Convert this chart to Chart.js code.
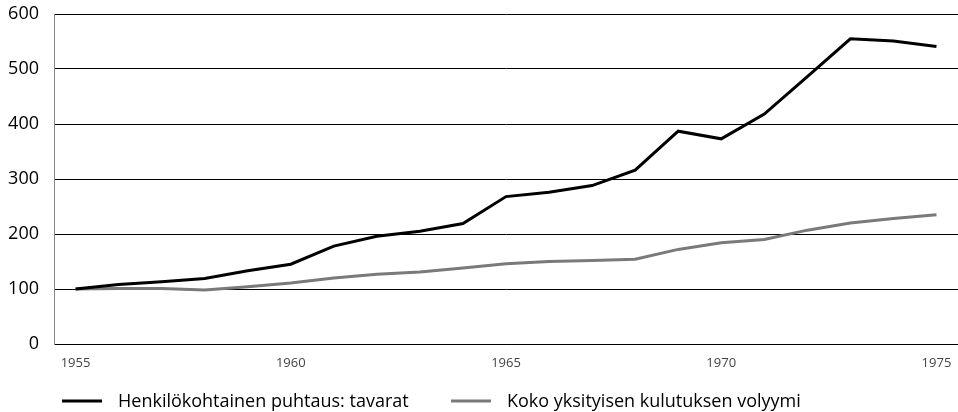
<!DOCTYPE html>
<html>
<head>
<meta charset="utf-8">
<script src="https://cdn.jsdelivr.net/npm/chart.js@4/dist/chart.umd.min.js"></script>
<style>
    html, body { margin: 0; padding: 0; background: #fff; }
    #wrap { width: 958px; height: 412px; }
</style>
</head>
<body>
<div id="wrap"><canvas id="chartCanvas" width="958" height="412"></canvas></div>
<script>
// Years on the x axis
const years = [1955, 1956, 1957, 1958, 1959, 1960, 1961, 1962, 1963, 1964, 1965,
               1966, 1967, 1968, 1969, 1970, 1971, 1972, 1973, 1974, 1975];

// Index, 1955 = 100
const puhtausTavarat = [100, 108, 113, 119, 133, 145, 178, 196, 205, 219, 268,
                        276, 288, 316, 387, 373, 418, 486, 555, 551, 541];
const kulutusVolyymi = [100, 101, 101, 98, 104, 111, 120, 127, 131, 138, 146,
                        150, 152, 154, 172, 184, 190, 207, 220, 228, 235];

const seriesNames = ['Henkilökohtainen puhtaus: tavarat', 'Koko yksityisen kulutuksen volyymi'];
const yTicks = [0, 100, 200, 300, 400, 500, 600];

const fontFamily = '"Open Sans", "Noto Sans", sans-serif';

(function() {
    const canvas = document.getElementById('chartCanvas');

    // Legend drawn under the x axis: line sample, then text
    const bottomLegend = {
        id: 'bottomLegend',
        afterDraw(chart) {
            const ctx = chart.ctx;
            const y = 401;
            const starts = [62, 451];
            ctx.save();
            ctx.font = '18px ' + fontFamily;
            ctx.textBaseline = 'middle';
            ctx.textAlign = 'left';
            chart.data.datasets.forEach((ds, i) => {
                const x = starts[i];
                ctx.strokeStyle = ds.borderColor;
                ctx.lineWidth = 3;
                ctx.beginPath();
                ctx.moveTo(x, y);
                ctx.lineTo(x + 40, y);
                ctx.stroke();
                ctx.fillStyle = '#000';
                ctx.fillText(ds.label, x + 56, y + 1);
            });
            ctx.restore();
        }
    };

    new Chart(canvas, {
        type: 'line',
        data: {
            labels: years.map(String),
            datasets: [
                {
                    label: seriesNames[0],
                    data: puhtausTavarat,
                    borderColor: '#000000',
                    backgroundColor: '#000000',
                    borderWidth: 3,
                    pointRadius: 0,
                    tension: 0
                },
                {
                    label: seriesNames[1],
                    data: kulutusVolyymi,
                    borderColor: '#7a7a7a',
                    backgroundColor: '#7a7a7a',
                    borderWidth: 3,
                    pointRadius: 0,
                    tension: 0
                }
            ]
        },
        options: {
            responsive: false,
            animation: false,
            layout: { padding: { top: 14, right: 0, left: 7, bottom: 41 } },
            plugins: {
                legend: { display: false },
                tooltip: { enabled: false }
            },
            scales: {
                x: {
                    offset: true,
                    grid: { display: false, offset: true, drawTicks: false },
                    border: { display: true, color: '#000', width: 1 },
                    afterFit: function(axis) {
                        axis.height = 27;
                        axis.paddingLeft = 0;
                        axis.paddingRight = 0;
                    },
                    ticks: {
                        autoSkip: false,
                        maxRotation: 0,
                        padding: 11,
                        color: '#444',
                        font: { family: fontFamily, size: 13 },
                        callback: function(value, index) {
                            const y = years[index];
                            return y % 5 === 0 ? String(y) : '';
                        }
                    }
                },
                y: {
                    min: 0,
                    max: 600,
                    afterBuildTicks: function(axis) {
                        axis.ticks = yTicks.map(v => ({ value: v }));
                    },
                    afterFit: function(axis) {
                        axis.width = 47;
                        axis.paddingTop = 0;
                        axis.paddingBottom = 0;
                    },
                    grid: { color: '#000', lineWidth: 1, drawTicks: false },
                    border: { display: true, color: '#888', width: 1 },
                    ticks: {
                        padding: 15,
                        color: '#000',
                        font: { family: fontFamily, size: 18 }
                    }
                }
            }
        },
        plugins: [bottomLegend]
    });
})();
</script>
</body>
</html>
